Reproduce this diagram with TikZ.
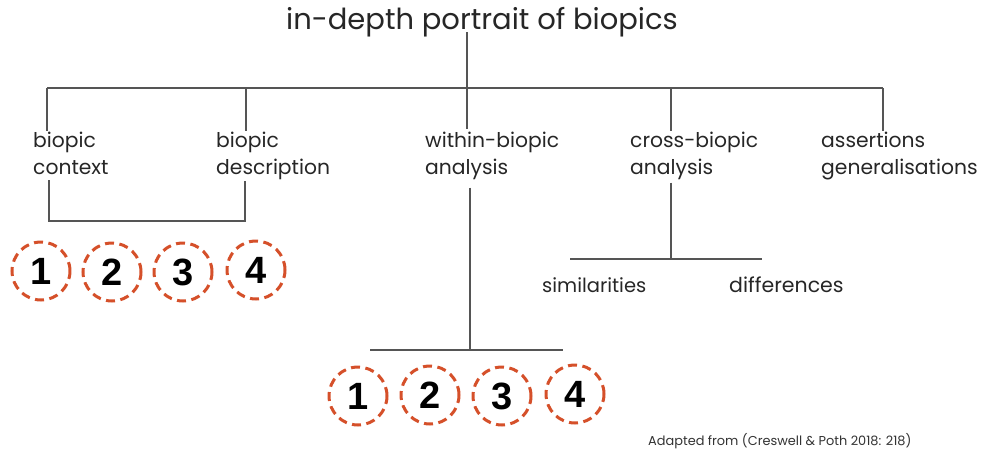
\documentclass[tikz,border=0pt]{standalone}
\usepackage{fontspec}
\setmainfont{Poppins}
\newfontfamily\numfont{Liberation Sans}
\definecolor{dashred}{HTML}{D5502A}
\definecolor{linegray}{HTML}{555555}
\newcommand\lbltop{\rule{0pt}{16.5pt}}
\newcommand\lblbot{\rule[-5pt]{0pt}{5pt}}
\tikzset{
  lbl/.style={anchor=north west, align=left, inner sep=0pt, font=\fontsize{20.3}{27}\selectfont, text=black!85},
  num/.style={circle, draw=dashred, line width=3pt, dash pattern=on 9pt off 5.5pt, minimum size=58pt, inner sep=0pt, font=\numfont\bfseries\fontsize{38}{38}\selectfont},
  conn/.style={draw=linegray, line width=1.4pt},
}
\begin{document}
\begin{tikzpicture}[x=1pt,y=-1pt]
\useasboundingbox (0,0) rectangle (987,452);
\node[inner sep=0pt, font=\fontsize{29}{32}\selectfont, text=black!85] (title) at (482,22) {in-depth portrait of biopics};
\node[lbl] (ctx) at (33,130.5) {\lbltop biopic\\context\lblbot};
\node[lbl] (desc) at (216,130.5) {\lbltop biopic\\description\lblbot};
\node[lbl] (wba) at (425,130.5) {\lbltop within-biopic\\analysis\lblbot};
\node[lbl] (cba) at (630,130.5) {\lbltop cross-biopic\\analysis\lblbot};
\node[lbl] (ass) at (821,130.5) {\lbltop assertions\\generalisations\lblbot};
\node[anchor=west, inner sep=0pt, font=\fontsize{19.5}{26}\selectfont, text=black!85] (sim) at (542,285) {similarities};
\node[anchor=west, inner sep=0pt, font=\fontsize{20.5}{26}\selectfont, text=black!85] (dif) at (729,285) {differences};
\node[anchor=west, inner sep=0pt, font=\fontsize{12.9}{14}\selectfont, text=black!80] (src) at (648,441) {Adapted from (Creswell \& Poth 2018: 218)};
% circles
\node[num] (a1) at (41,271) {1};
\node[num] (a2) at (112,272) {2};
\node[num] (a3) at (183,272) {3};
\node[num] (a4) at (256,270) {4};
\node[num] (b1) at (358,396) {1};
\node[num] (b2) at (430,395) {2};
\node[num] (b3) at (502,396) {3};
\node[num] (b4) at (575,394) {4};
% junction coordinates
\coordinate (j0) at (467,88);
\coordinate (jl) at (47,88);
\coordinate (jr) at (883,88);
\coordinate (jd) at (246,88);
\coordinate (jc) at (671,88);
\coordinate (k1) at (49,221);
\coordinate (k2) at (245,221);
\coordinate (m0) at (470,350);
\coordinate (ml) at (370,350);
\coordinate (mr) at (563,350);
\coordinate (n0) at (671,259);
\coordinate (nl) at (570,259);
\coordinate (nr) at (762,259);
% connectors
\draw[conn] ([yshift=5pt]title.south -| j0) -- (j0);
\draw[conn] (jl) -- (jr);
\draw[conn] (jl) -- (jl |- ctx.north);
\draw[conn] (jd) -- (jd |- desc.north);
\draw[conn] (j0) -- ([yshift=2pt]j0 |- wba.north);
\draw[conn] (jc) -- (jc |- cba.north);
\draw[conn] (jr) -- (jr |- ass.north);
\draw[conn] ([yshift=-1pt]k1 |- ctx.south) -- (k1) -- (k2) -- ([yshift=-1pt]k2 |- desc.south);
\draw[conn] ([yshift=-8pt]m0 |- wba.south) -- (m0);
\draw[conn] (ml) -- (mr);
\draw[conn] ([yshift=-3pt]n0 |- cba.south) -- (n0);
\draw[conn] (nl) -- (nr);
\end{tikzpicture}
\end{document}
